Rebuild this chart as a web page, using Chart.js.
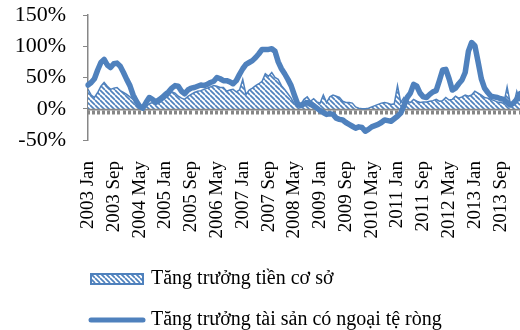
<!DOCTYPE html>
<html>
<head>
<meta charset="utf-8">
<script src="https://cdn.jsdelivr.net/npm/chart.js@4.4.1/dist/chart.umd.min.js"></script>
<style>
  html, body { margin: 0; padding: 0; background: #ffffff; overflow: hidden; }
  #wrap { position: relative; width: 520px; height: 330px; }
</style>
</head>
<body>
<div id="wrap"><canvas id="chart"></canvas></div>
<script>
// Monthly categories, Jan 2003 .. Mar 2014
const startYear = 2003;
const monthCount = 135;
const monthNames = ['Jan', 'Feb', 'Mar', 'Apr', 'May', 'Jun', 'Jul', 'Aug', 'Sep', 'Oct', 'Nov', 'Dec'];
const months = [];
for (let i = 0; i < monthCount; i++) {
  months.push((startYear + Math.floor(i / 12)) + ' ' + monthNames[i % 12]);
}

// Category labels that are printed under the axis
const tickLabels = ['2003 Jan', '2003 Sep', '2004 May', '2005 Jan', '2005 Sep', '2006 May',
  '2007 Jan', '2007 Sep', '2008 May', '2009 Jan', '2009 Sep', '2010 May', '2011 Jan',
  '2011 Sep', '2012 May', '2013 Jan', '2013 Sep'];

// Year-on-year growth, percent
const baseMoneyGrowth = [
  31, 22, 18, 26, 36, 42, 36, 31, 33, 34,
  29, 26, 23, 19, 15, 9, 5, 2, 3, 8,
  10, 7, 9, 13, 17, 21, 27, 25, 20, 17,
  15, 20, 23, 26, 28, 29, 31, 33, 35, 37,
  36, 34, 34, 28, 30, 31, 27, 30, 47, 23,
  30, 33, 37, 40, 44, 56, 52, 58, 50, 47,
  37, 31, 24, 17, 8, 4, 7, 15, 19, 12,
  16, 11, 9, 22, 10, 19, 22, 20, 18, 12,
  10, 10, 9, 3, 1, 0, 0, 1, 3, 5,
  7, 9, 10, 9, 7, 8, 37, 10, 18, 12,
  10, 15, 12, 10, 11, 11, 12, 13, 15, 12,
  13, 18, 14, 15, 20, 17, 19, 22, 20, 22,
  28, 25, 22, 18, 17, 15, 13, 11, 10, 9,
  35, 8, 6, 28, 12
];
const netForeignAssetGrowth = [
  38, 42, 48, 62, 74, 79, 70, 66, 72, 73,
  68, 58, 47, 37, 22, 12, 4, 1, 10, 18,
  15, 11, 14, 18, 23, 27, 33, 37, 36, 28,
  24, 30, 33, 34, 36, 38, 37, 39, 42, 44,
  50, 48, 45, 45, 43, 40, 45, 55, 64, 71,
  74, 77, 82, 88, 95, 95, 95, 96, 92, 75,
  64, 56, 47, 37, 22, 8, 5, 8, 10, 7,
  5, 1, -3, -6, -9, -8, -9, -15, -17, -18,
  -22, -25, -28, -31, -29, -30, -36, -33, -29, -27,
  -25, -22, -18, -19, -20, -16, -12, -7, 5, 18,
  25, 39, 36, 25, 19, 18, 23, 27, 29, 45,
  62, 63, 48, 30, 33, 40, 46, 58, 92, 106,
  101, 75, 48, 33, 26, 20, 19, 18, 16, 15,
  10, 6, 9, 15, 24
];

const seriesNames = ['Tăng trưởng tiền cơ sở', 'Tăng trưởng tài sản có ngoại tệ ròng'];

const BLUE = '#4f81bd';
const AXIS_GREY = '#878787';
const SERIF = "'Liberation Serif', 'Times New Roman', serif";

// Diagonal hatch used for the base-money area
function makeHatch() {
  const s = 5;
  const c = document.createElement('canvas');
  c.width = s; c.height = s;
  const g = c.getContext('2d');
  g.fillStyle = '#ffffff';
  g.fillRect(0, 0, s, s);
  g.strokeStyle = BLUE;
  g.lineWidth = 1.7;
  for (let k = -1; k <= 1; k++) {
    g.beginPath();
    g.moveTo(k * s, 0);
    g.lineTo(k * s + s, s);
    g.stroke();
  }
  return c;
}
const hatchTile = makeHatch();
const hatchPattern = document.createElement('canvas').getContext('2d').createPattern(hatchTile, 'repeat');

// Legend swatches
function makeAreaSwatch() {
  const c = document.createElement('canvas');
  c.width = 54; c.height = 12;
  const g = c.getContext('2d');
  g.fillStyle = g.createPattern(hatchTile, 'repeat');
  g.fillRect(0, 0, 54, 12);
  g.strokeStyle = BLUE;
  g.lineWidth = 2;
  g.strokeRect(1, 1, 52, 10);
  return c;
}
function makeLineSwatch() {
  const c = document.createElement('canvas');
  c.width = 58; c.height = 8;
  const g = c.getContext('2d');
  g.strokeStyle = BLUE;
  g.lineWidth = 5;
  g.lineCap = 'round';
  g.beginPath();
  g.moveTo(3, 4);
  g.lineTo(55, 4);
  g.stroke();
  return c;
}
const areaSwatch = makeAreaSwatch();
const lineSwatch = makeLineSwatch();

// Puts the stacked legend below the category labels
const legendPlacement = {
  id: 'legendPlacement',
  afterLayout(chart) {
    const lg = chart.legend;
    if (!lg) return;
    lg.left = 72;
    lg.top = 248;
    lg.right = 520;
    lg.bottom = 420;
    lg.width = lg.right - lg.left;
    lg.height = lg.bottom - lg.top;
  }
};

new Chart(document.getElementById('chart'), {
  type: 'line',
  data: {
    labels: months,
    datasets: [
      {
        label: seriesNames[1],
        data: netForeignAssetGrowth,
        xAxisID: 'x',
        yAxisID: 'y',
        borderColor: BLUE,
        borderWidth: 5.5,
        borderJoinStyle: 'round',
        borderCapStyle: 'round',
        pointRadius: 0,
        tension: 0,
        fill: false
      },
      {
        label: seriesNames[0],
        data: baseMoneyGrowth,
        xAxisID: 'x',
        yAxisID: 'y',
        borderColor: BLUE,
        borderWidth: 1.5,
        backgroundColor: hatchPattern,
        pointRadius: 0,
        tension: 0,
        fill: 'origin'
      }
    ]
  },
  options: {
    responsive: true,
    maintainAspectRatio: false,
    animation: false,
    devicePixelRatio: 1,
    layout: { padding: { top: 15, right: 0, bottom: 0, left: 0 } },
    plugins: {
      tooltip: { enabled: false },
      title: { display: false },
      legend: {
        display: true,
        position: 'chartArea',
        align: 'start',
        labels: {
          usePointStyle: true,
          pointStyleWidth: 48,
          padding: 21,
          color: '#000000',
          font: { family: SERIF, size: 20 },
          generateLabels: () => [
            { text: seriesNames[0], pointStyle: areaSwatch, datasetIndex: 1, hidden: false,
              fontColor: '#000000', lineWidth: 0, fillStyle: 'transparent', strokeStyle: 'transparent' },
            { text: seriesNames[1], pointStyle: lineSwatch, datasetIndex: 0, hidden: false,
              fontColor: '#000000', lineWidth: 0, fillStyle: 'transparent', strokeStyle: 'transparent' }
          ]
        }
      }
    },
    scales: {
      x: {
        type: 'category',
        axis: 'x',
        position: 'bottom',
        offset: false,
        grid: { display: false, drawTicks: false },
        border: { display: false },
        ticks: {
          autoSkip: false,
          minRotation: 90,
          maxRotation: 90,
          padding: 21,
          color: '#000000',
          font: { family: SERIF, size: 19 },
          callback: (v, i) => (tickLabels.includes(months[i]) ? months[i] : '')
        },
        afterFit: (s) => { s.height = 190; s.paddingLeft = 0; s.paddingRight = 0; }
      },
      xt: {
        type: 'linear',
        axis: 'x',
        position: { y: 0 },
        min: 0,
        max: monthCount - 1,
        grid: {
          drawOnChartArea: false,
          drawTicks: true,
          tickLength: 4,
          tickWidth: 3,
          color: AXIS_GREY
        },
        border: { display: true, color: AXIS_GREY, width: 2.5 },
        ticks: { display: false, count: 85 },
        afterFit: (s) => { s.paddingLeft = 0; s.paddingRight = 0; }
      },
      y: {
        type: 'linear',
        position: 'left',
        min: -50,
        max: 150,
        grid: {
          drawOnChartArea: false,
          drawTicks: true,
          tickLength: 5,
          color: AXIS_GREY
        },
        border: { display: true, color: AXIS_GREY, width: 1.5 },
        ticks: {
          autoSkip: false,
          stepSize: 50,
          padding: 17,
          color: '#000000',
          font: { family: SERIF, size: 22 },
          callback: (v) => v + '%'
        },
        afterFit: (s) => { s.width = 88; s.paddingTop = 0; s.paddingBottom = 0; }
      }
    }
  },
  plugins: [legendPlacement]
});
</script>
</body>
</html>
